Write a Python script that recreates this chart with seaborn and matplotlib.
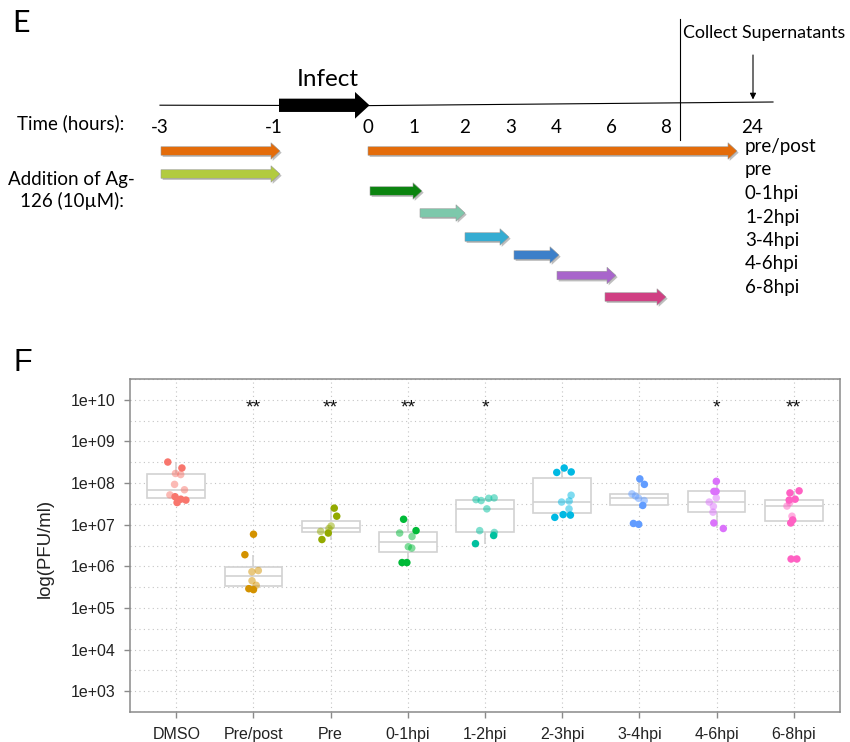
import numpy as np
import pandas as pd
import matplotlib
matplotlib.use("Agg")
import matplotlib.pyplot as plt
import matplotlib.patheffects as pe
from matplotlib.patches import FancyArrow
from matplotlib.ticker import FuncFormatter
import seaborn as sns

# ---------------- data: virus titres (PFU/ml) per treatment ----------------
treatments = ["DMSO", "Pre/post", "Pre", "0-1hpi", "1-2hpi",
              "2-3hpi", "3-4hpi", "4-6hpi", "6-8hpi"]

# experiment A (solid points)
exp_a = {
    "DMSO":     [3.2e8, 2.3e8, 4.7e7, 4.1e7, 3.9e7, 3.4e7],
    "Pre/post": [5.9e6, 1.9e6, 2.9e5, 2.75e5],
    "Pre":      [2.5e7, 1.6e7, 6.3e6, 4.4e6],
    "0-1hpi":   [1.35e7, 7.2e6, 1.23e6, 1.23e6],
    "1-2hpi":   [5.5e6, 3.5e6],
    "2-3hpi":   [2.3e8, 1.85e8, 1.8e8, 1.75e7, 1.7e7, 1.5e7],
    "3-4hpi":   [1.26e8, 9.3e7, 2.9e7, 1.02e7, 1.07e7],
    "4-6hpi":   [1.1e8, 6.3e7, 6.3e7, 1.1e7, 8.1e6],
    "6-8hpi":   [6.5e7, 5.8e7, 4.1e7, 3.9e7, 1.3e7, 1.1e7, 1.5e6, 1.5e6],
}
# experiment B (faded points)
exp_b = {
    "DMSO":     [1.7e8, 1.6e8, 9.3e7, 6.9e7, 5.2e7],
    "Pre/post": [7.9e5, 7.4e5, 4.5e5, 3.5e5],
    "Pre":      [9.3e6, 8.1e6, 6.9e6],
    "0-1hpi":   [6.3e6, 5.2e6, 2.95e6, 2.75e6],
    "1-2hpi":   [4.4e7, 4.3e7, 4.0e7, 3.8e7, 2.4e7, 7.2e6, 6.5e6],
    "2-3hpi":   [5.1e7, 3.7e7, 3.5e7, 2.4e7],
    "3-4hpi":   [5.5e7, 4.9e7, 4.3e7, 3.8e7],
    "4-6hpi":   [4.4e7, 3.5e7, 2.75e7, 2.0e7],
    "6-8hpi":   [3.4e7, 2.8e7, 1.6e7],
}
significance = ["", "**", "**", "**", "*", "", "", "*", "**"]

hue_colors = ["#F8766D", "#D39200", "#93AA00", "#00BA38", "#00C19F",
              "#00B9E3", "#619CFF", "#DB72FB", "#FF61C3"]

# ---------------- schematic: drug-addition windows ----------------
time_ticks = ["-3", "-1", "0", "1", "2", "3", "4", "6", "8", "24"]
window_labels = ["pre/post", "pre", "0-1hpi", "1-2hpi", "3-4hpi", "4-6hpi", "6-8hpi"]
arrow_colors = ["#E46C0A", "#E46C0A", "#B2CB3F", "#0B840F", "#7DC8AB",
                "#35ACD2", "#3C7FC9", "#A865CB", "#D03F83"]

rows = []
for t in treatments:
    for v in exp_a[t]:
        rows.append((t, v, "A"))
    for v in exp_b[t]:
        rows.append((t, v, "B"))
df = pd.DataFrame(rows, columns=["treatment", "pfu", "experiment"])

W, H = 850, 742
fig = plt.figure(figsize=(W / 100, H / 100), dpi=100)

# ================= panel E: timeline schematic (pixel coordinates) =================
axd = fig.add_axes([0, 1 - 330 / H, 1, 330 / H])
axd.set_xlim(0, W)
axd.set_ylim(330, 0)
axd.axis("off")

lato = "Lato"
axd.text(12, 31.7, "E", fontsize=22, family=lato, va="baseline", ha="left")

# time axis line and the infection step
axd.plot([160, 370, 773], [105.2, 105.6, 102], color="black", lw=0.8)
axd.add_patch(FancyArrow(279, 105.3, 90.5, 0, width=13.3, head_width=26.7,
                         head_length=14.5, length_includes_head=True,
                         color="black", lw=0))
axd.text(297, 86, "Infect", fontsize=17.5, family=lato, va="baseline", ha="left")

# supernatant collection marker
axd.plot([680, 680], [19, 140], color="black", lw=0.8)
axd.annotate("", xy=(753, 99.5), xytext=(753, 55),
             arrowprops=dict(arrowstyle="-|>", lw=0.8, color="black",
                             mutation_scale=9, shrinkA=0, shrinkB=0))
axd.text(683, 38.3, "Collect Supernatants", fontsize=12.8, family=lato,
         va="baseline", ha="left")

axd.text(17, 129.5, "Time (hours):", fontsize=13.5, family=lato,
         va="baseline", ha="left")
tick_px = [160, 274, 368, 414, 464.5, 510.5, 556, 611, 666, 752]
for lab, xp in zip(time_ticks, tick_px):
    axd.text(xp, 133, lab, fontsize=13.5, family=lato, va="baseline", ha="center")

axd.text(71.5, 185, "Addition of Ag-", fontsize=13.5, family=lato,
         va="baseline", ha="center")
axd.text(72, 207.5, "126 (10\u00b5M):", fontsize=13.5, family=lato,
         va="baseline", ha="center")

for i, lab in enumerate(window_labels):
    axd.text(745, 152 + 23.5 * i, lab, fontsize=13.5, family=lato,
             va="baseline", ha="left")

arrow_geom = [(161, 280, 151), (368, 737, 151), (161, 280, 174),
              (370, 422, 191), (420, 465, 213), (465, 509, 237),
              (514, 559, 255), (557, 616, 275.5), (605, 666, 297)]
shadow = [pe.SimplePatchShadow(offset=(1.2, -1.2), shadow_rgbFace="black",
                               alpha=0.25), pe.Normal()]
for (x0, x1, yc), col in zip(arrow_geom, arrow_colors):
    arr = FancyArrow(x0, yc, x1 - x0, 0, width=8.5, head_width=16.5,
                     head_length=9, length_includes_head=True,
                     facecolor=col, edgecolor="#9a9a9a", lw=0.4)
    arr.set_path_effects(shadow)
    axd.add_patch(arr)

# ================= panel F: titres per treatment =================
ax = fig.add_axes([130 / W, 1 - 712 / H, 710 / W, 333 / H])
ax.set_yscale("log")

sns.boxplot(data=df, x="treatment", y="pfu", order=treatments, color="white",
            width=0.75, linewidth=1.2, linecolor="#d2d2d2", showfliers=False,
            showcaps=False, whis=1.5, ax=ax, zorder=2)
np.random.seed(7)
sns.stripplot(data=df[df.experiment == "A"], x="treatment", y="pfu",
              order=treatments, hue="treatment", hue_order=treatments,
              palette=hue_colors, jitter=0.13, size=5.4, linewidth=0,
              legend=False, ax=ax, zorder=4)
sns.stripplot(data=df[df.experiment == "B"], x="treatment", y="pfu",
              order=treatments, hue="treatment", hue_order=treatments,
              palette=hue_colors, jitter=0.13, size=5.4, linewidth=0,
              alpha=0.5, legend=False, ax=ax, zorder=5)

for i, s in enumerate(significance):
    if s:
        ax.text(i, 10 ** 9.70, s, ha="center", va="baseline", fontsize=14,
                family="Liberation Sans", color="#111111")

ax.set_xlim(-0.6, 8.6)
ax.set_ylim(10 ** 2.66, 10 ** 10.36)
ax.set_yticks([10.0 ** k for k in range(3, 11)])
ax.set_yticks([10.0 ** (k + 0.5) for k in range(2, 11)], minor=True)
ax.yaxis.set_major_formatter(FuncFormatter(lambda v, p: f"1e+{int(round(np.log10(v))):02d}"))
ax.tick_params(axis="y", which="minor", length=0)
ax.tick_params(axis="both", which="major", length=4.5, width=1, color="#8a8a8a",
               labelsize=11.5, labelcolor="#222222", pad=6)
for lab in ax.get_xticklabels() + ax.get_yticklabels():
    lab.set_family("Liberation Sans")

ax.set_axisbelow(True)
ax.grid(True, which="both", axis="y", linestyle=(0, (1, 3)), color="#c4c4c4", lw=0.8)
ax.grid(True, which="major", axis="x", linestyle=(0, (1, 3)), color="#c4c4c4", lw=0.8)
for sp in ax.spines.values():
    sp.set_color("#8a8a8a")
    sp.set_linewidth(1.1)

ax.set_xlabel("")
ax.set_ylabel("log(PFU/ml)", fontsize=13.4, family="Liberation Sans",
              color="#222222", va="center")
ax.yaxis.set_label_coords(-0.119, 0.491)

fig.text(13 / W, 1 - 371 / H, "F", fontsize=22, family="Liberation Sans",
         va="baseline", ha="left")

fig.savefig("out.png", dpi=100)
